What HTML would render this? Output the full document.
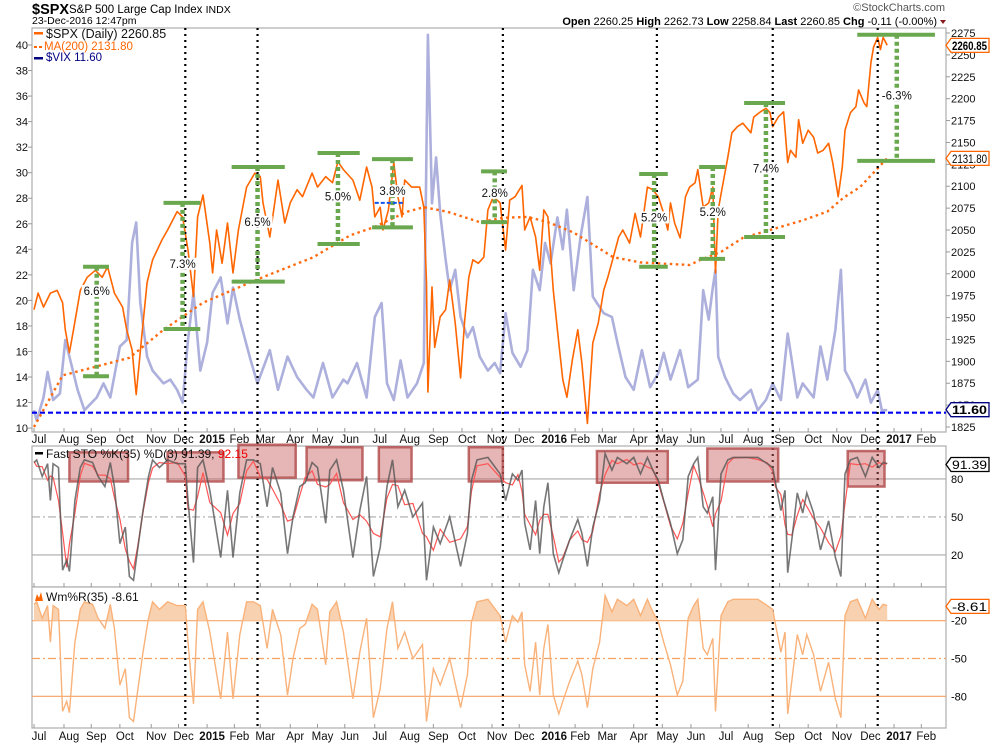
<!DOCTYPE html>
<html><head><meta charset="utf-8">
<style>
html,body{margin:0;padding:0;background:#fff;}
svg{display:block;font-family:"Liberation Sans",Arial,sans-serif;}
</style></head>
<body>
<svg id="chart" width="990" height="744" viewBox="0 0 990 744" xmlns="http://www.w3.org/2000/svg">
  <text x="32" y="14" font-size="14.5" font-weight="bold">$SPX</text>
  <text x="69" y="13" font-size="11.5">S&amp;P 500 Large Cap Index <tspan font-size="10.5">INDX</tspan></text>
  <text x="32" y="24" font-size="10.5">23-Dec-2016 12:47pm</text>
  <text x="945" y="11" font-size="11" fill="#555" text-anchor="end">©StockCharts.com</text>
  <text x="937" y="25" font-size="11" text-anchor="end"><tspan font-weight="bold">Open</tspan> 2260.25  <tspan font-weight="bold">High</tspan> 2262.73  <tspan font-weight="bold">Low</tspan> 2258.84  <tspan font-weight="bold">Last</tspan> 2260.85  <tspan font-weight="bold">Chg</tspan> -0.11 (-0.00%)</text>
  <polygon points="940,20 946,20 943,24" fill="#8b1a1a"/>
  <g id="layer"></g>
</svg>
<script>
// ---------- DATA ----------
const monthDays = [0,22,42,63,86,106,127,147,166,188,208,228,250,272,293,314,336,356,378,397,417,440,461,482,504,524,547,568,589,610,631,651];
const monthLabels = ["Jul","Aug","Sep","Oct","Nov","Dec","2015","Feb","Mar","Apr","May","Jun","Jul","Aug","Sep","Oct","Nov","Dec","2016","Feb","Mar","Apr","May","Jun","Jul","Aug","Sep","Oct","Nov","Dec","2017","Feb"];
const vixTicks = [40,38,36,34,32,30,28,26,24,22,20,18,16,14,12,10];
const priceTicks = [2275,2250,2225,2200,2175,2150,2125,2100,2075,2050,2025,2000,1975,1950,1925,1900,1875,1850,1825];
const stoTicks = [80,50,20];
const wrTicks = [-20,-50,-80];

const spxDays = [0,3,7,12,17,21,23,26,29,34,39,45,50,54,59,65,68,72,75,79,83,87,94,98,105,109,113,117,120,124,129,131,134,138,142,146,150,156,162,166,168,173,179,184,188,193,197,204,208,214,219,223,227,234,239,244,248,250,254,256,260,264,267,270,272,277,283,286,288,289,292,294,298,302,305,309,313,316,319,322,326,330,333,337,342,346,349,353,358,360,364,368,371,374,377,381,385,388,391,395,399,402,406,410,414,418,421,425,429,432,437,441,445,450,454,458,462,465,467,470,474,478,481,485,487,491,495,498,500,502,505,509,512,516,520,526,528,533,537,540,542,546,550,553,555,559,561,564,568,572,575,579,583,586,590,593,595,599,603,605,609,611,614,616,619,621,623,626];
const spxClose = [1959,1978,1962,1978,1981,1967,1936,1910,1936,1981,1996,2004,1996,2008,1978,1962,1936,1913,1862,1928,1990,2016,2039,2050,2071,2065,2027,1974,2065,2090,2035,2001,2050,2012,2058,2001,2050,2099,2115,2111,2081,2042,2107,2058,2081,2096,2088,2115,2099,2111,2104,2128,2119,2107,2084,2122,2099,2065,2076,2050,2073,2127,2088,2065,2107,2099,2099,2076,1990,1865,1985,1916,1951,1959,1993,1944,1881,1947,1996,2016,2012,2019,2073,2088,2081,2027,2084,2088,2101,2050,2065,2042,2004,2073,2065,1981,1921,1879,1859,1902,1936,1898,1829,1921,1944,1981,1996,2019,2042,2050,2035,2069,2042,2099,2096,2088,2069,2050,2081,2058,2041,2088,2099,2104,2119,2076,2081,2099,2001,2073,2099,2133,2161,2168,2172,2161,2179,2185,2189,2184,2168,2179,2185,2127,2141,2133,2176,2149,2164,2156,2138,2141,2149,2127,2088,2122,2164,2184,2191,2210,2195,2191,2241,2259,2270,2256,2270,2261];

const maDays = [0,21,70,95,124,166,205,232,249,274,286,303,327,344,362,377,396,425,445,457,481,489,504,520,540,564,582,594,606,626];
const maValues = [1825,1884,1904,1936,1967,1995,2019,2044,2053,2071,2076,2071,2059,2064,2065,2059,2047,2019,2013,2012,2010,2016,2025,2041,2050,2061,2071,2087,2099,2132];

const vixDays = [0,2,7,10,14,19,23,26,32,37,46,51,56,63,68,72,75,78,83,87,95,100,105,109,113,117,122,127,131,137,142,146,151,159,164,173,179,186,193,200,205,212,219,227,230,237,244,250,255,259,264,269,274,281,286,289,292,295,298,302,305,309,313,318,322,327,333,338,342,346,351,357,362,366,371,375,379,384,388,391,396,401,406,410,413,418,424,428,434,440,446,452,458,462,467,474,480,487,491,495,498,500,502,507,513,518,526,531,537,542,548,553,556,560,564,572,577,582,588,592,595,600,604,610,614,619,622,626];
const vixValues = [11.4,10.6,12.4,14.4,12.2,12.7,16.9,15.6,13.0,11.4,12.4,13.5,12.4,16.4,16.9,24.5,26.1,19.8,15.6,14.5,13.5,13.8,13.0,12.0,16.9,20.6,14.5,16.7,20.6,21.8,18.2,21.0,18.5,15.3,13.5,16.1,13.0,15.6,14.0,13.0,12.4,15.1,12.4,13.8,13.5,15.1,12.4,18.7,19.8,13.5,12.2,15.3,12.4,13.5,15.1,40.8,27.6,31.2,26.8,23.2,20.8,22.4,18.7,17.1,17.9,15.6,14.5,15.1,14.3,19.0,15.9,14.8,16.1,22.4,20.8,24.5,22.9,26.5,24.0,27.1,20.8,25.0,28.1,20.3,19.8,19.0,18.7,16.7,14.0,13.0,16.1,13.2,14.3,15.9,13.8,16.1,13.2,13.8,20.8,18.5,21.0,22.4,15.6,14.0,12.7,12.2,13.0,11.4,12.2,13.5,12.2,17.4,15.3,12.4,13.5,12.4,16.4,13.8,17.7,22.4,14.5,13.5,12.4,13.8,12.0,13.0,11.4,11.4];
const vixLast = 11.6;

const kDays = [0,2,6,10,12,14,18,21,24,26,30,34,37,43,47,52,56,59,63,67,70,73,76,80,84,87,92,98,105,111,113,117,120,124,129,137,142,146,151,156,161,166,171,175,181,186,190,195,199,204,208,214,217,222,227,234,239,244,249,254,259,263,267,272,278,285,288,293,298,305,313,318,321,325,333,342,346,351,355,358,360,364,368,371,374,377,381,385,388,393,399,402,406,410,415,419,424,428,435,440,445,450,454,458,462,467,472,476,480,484,487,491,494,498,500,504,509,513,523,531,538,542,544,548,551,553,556,560,564,567,572,577,583,588,592,595,599,604,610,615,620,623,626];
const kValues = [93,95,82,92,63,92,89,8,16,7,63,89,95,93,82,74,93,74,29,42,3,0,24,55,82,95,89,95,92,92,63,14,89,95,71,18,71,18,69,95,95,92,58,89,69,21,50,74,77,93,89,45,87,95,71,18,55,82,3,26,74,95,58,71,50,61,0,42,29,50,11,37,79,95,97,84,63,84,79,87,45,24,63,21,58,77,21,6,16,32,48,37,11,42,63,100,87,97,92,97,84,97,87,79,63,45,21,32,82,92,97,58,53,66,8,84,95,97,97,97,92,89,77,55,71,6,32,69,53,69,53,24,47,18,3,84,95,97,82,97,89,93,92];
const kLast = 91.39, dLast = 92.15, wrLast = -8.61;

const brDayStart = [36,95,145,208,248,328,444,488,521,604];
const brDayEnd   = [55,122,184,239,278,347,465,507,551,661];
const brDayMid   = [46,109,164,223,263,338,455,498,537,633];
const brTop      = [2008,2081,2122,2138,2131,2117,2114,2122,2195,2273];
const brBottom   = [1883,1937,1991,2034,2053,2059,2008,2017,2042,2129];
const brLabelPx  = [1977,2008,2056,2085,2091,2089,2061,2067,2117,2200];
const brLabels   = ["6.6%","7.3%","6.5%","5.0%","3.8%","2.8%","5.2%","5.2%","7.4%","-6.3%"];

const eventDays = [111,164,344,457,542,619];

const boxDayStart = [26,98,150,200,253,319,413,494,597];
const boxDayEnd   = [69,139,192,241,277,344,465,546,624];
const boxTop      = [101,101,107,105,105,105,102,104,102];
const boxBottom   = [78,78,81,79,78,78,77,78,74];

// ---------- SCALES ----------
const L=32,R=946, MT=28,MB=432, ST=446,SB=587, WT=587,WB=728;
const xD = d => 34 + d*1.363;
const yP = p => 33 + (2275-p)*0.8756;
const yV = v => 45 + (40-v)*12.77;
const yK = k => 580.3 - k*1.267;
const yW = w => 595.5 + (-w)*1.26;

const NS="http://www.w3.org/2000/svg";
const layer=document.getElementById('layer');
function mk(tag, attrs, parent){const e=document.createElementNS(NS,tag);for(const k in attrs)e.setAttribute(k,attrs[k]);(parent||layer).appendChild(e);return e;}
function pts(days, vals, fy){return days.map((d,i)=>xD(d).toFixed(1)+','+fy(vals[i]).toFixed(1)).join(' ');}

[[MT,MB,'price-panel'],[ST,SB,'stochastic-panel'],[WT,WB,'williams-panel']].forEach(p=>{
  const r=mk('rect',{x:L,y:p[0],width:R-L,height:p[1]-p[0],fill:'#fff',stroke:'#b4b4b4','stroke-width':1.3});
  
  
});

function monthAxis(y, name){
  const g=mk('g',{});
  
  
  monthDays.forEach((d,i)=>{
    const t=mk('text',{x:xD(d)+5,y:y,'font-size':11.5,'text-anchor':'middle','font-weight':/^\d/.test(monthLabels[i])?'bold':'normal',fill:'#111'},g);
    t.textContent=monthLabels[i];
    
    
  });
}
monthAxis(443,'x-axis-top');
monthAxis(740,'x-axis-bottom');
[MB,SB,WB].forEach(yb=>{
  monthDays.forEach(d=>{const x=xD(d); if(x>L&&x<R){const t=mk('line',{x1:x,x2:x,y1:yb-4,y2:yb,stroke:'#999'});}});
});

vixTicks.forEach(v=>{
  const t=mk('text',{x:28,y:yV(v)+4,'font-size':11,'text-anchor':'end',fill:'#111'});
  t.textContent=v;
  
  
  const tk=mk('line',{x1:L-4,x2:L,y1:yV(v),y2:yV(v),stroke:'#999'});
  
  
});
priceTicks.forEach(p=>{
  const t=mk('text',{x:951,y:yP(p)+4,'font-size':11,fill:'#111'});
  t.textContent=p;
  
  
  const tk=mk('line',{x1:R,x2:R+4,y1:yP(p),y2:yP(p),stroke:'#999'});
  
  
});

stoTicks.forEach(v=>{
  const l=mk('line',{x1:L,x2:R,y1:yK(v),y2:yK(v),stroke:'#aaa','stroke-width':1.2,'stroke-dasharray':v===50?'8,3,2,3':'none'});
  
  
  const t=mk('text',{x:951,y:yK(v)+4,'font-size':11});
  t.textContent=v;
  
  
});
wrTicks.forEach(v=>{
  const l=mk('line',{x1:L,x2:R,y1:yW(v),y2:yW(v),stroke:'#f7a060','stroke-width':1.2,'stroke-dasharray':v===-50?'8,3,2,3':'none'});
  
  
  const t=mk('text',{x:951,y:yW(v)+4,'font-size':11});
  t.textContent=v;
  
  
});

const vixLine=mk('polyline',{points:pts(vixDays,vixValues,yV),fill:'none',stroke:'#adb0dc','stroke-width':2.6,'stroke-linejoin':'round'});


const vixLvl=mk('line',{x1:L,x2:R,y1:yV(vixLast)+5,y2:yV(vixLast)+5,stroke:'#0000ee','stroke-width':2.2,'stroke-dasharray':'5,3'});



const maLine=mk('polyline',{points:pts(maDays,maValues,yP),fill:'none',stroke:'#ff6a10','stroke-width':2.4,'stroke-dasharray':'2.5,3.5'});



const spxLine=mk('polyline',{points:pts(spxDays,spxClose,yP),fill:'none',stroke:'#ff6600','stroke-width':1.6,'stroke-linejoin':'round'});



eventDays.forEach(d=>{
  const l=mk('line',{x1:xD(d),x2:xD(d),y1:MT,y2:WB,stroke:'#000','stroke-width':2.2,'stroke-dasharray':'2,4'});
  
  
});

brLabels.forEach((lab,i)=>{
  const g=mk('g',{});
  
  
  const x1=xD(brDayStart[i]),x2=xD(brDayEnd[i]),xm=xD(brDayMid[i]);
  mk('line',{x1:x1,x2:x2,y1:yP(brTop[i]),y2:yP(brTop[i]),stroke:'#6aa84f','stroke-width':4},g);
  mk('line',{x1:x1,x2:x2,y1:yP(brBottom[i]),y2:yP(brBottom[i]),stroke:'#6aa84f','stroke-width':4},g);
  mk('line',{x1:xm,x2:xm,y1:yP(brTop[i]),y2:yP(brBottom[i]),stroke:'#6aa84f','stroke-width':4.5,'stroke-dasharray':'4,3'},g);
  const ly=yP(brLabelPx[i]);
  mk('rect',{x:xm-15,y:ly-9,width:30,height:12,fill:'#fff'},g);
  const t=mk('text',{x:xm,y:ly+1,'font-size':11.5,'text-anchor':'middle',fill:'#111'},g);
  t.textContent=lab;
  
  
});
const bl=mk('line',{x1:xD(250),x2:xD(272),y1:yP(2081),y2:yP(2081),stroke:'#1155ee','stroke-width':2,'stroke-dasharray':'4,2'});



boxDayStart.forEach((d,i)=>{
  const r=mk('rect',{x:xD(d),y:yK(boxTop[i]),width:xD(boxDayEnd[i])-xD(d),height:yK(boxBottom[i])-yK(boxTop[i]),fill:'rgba(200,90,90,0.45)',stroke:'#b04848','stroke-width':2.5,'stroke-opacity':0.8});
  
  
});
const dValues = kValues.map((v,i)=>(kValues[Math.max(0,i-1)]+v+kValues[Math.min(kValues.length-1,i+1)])/3);
const dLine=mk('polyline',{points:pts(kDays,dValues,yK),fill:'none',stroke:'#ff5555','stroke-width':1.2});


const kLine=mk('polyline',{points:pts(kDays,kValues,yK),fill:'none',stroke:'#555','stroke-width':1.6,'stroke-opacity':0.8});



const wrValues = kValues.map(v=>v-100);
const clip=mk('clipPath',{id:'wrclip'});
mk('rect',{x:L,y:WT,width:R-L,height:yW(-20)-WT},clip);
const areaPts = xD(kDays[0])+','+yW(-20)+' '+pts(kDays,wrValues,yW)+' '+xD(kDays[kDays.length-1])+','+yW(-20);
const wrArea=mk('polygon',{points:areaPts,fill:'#f8d2b0','clip-path':'url(#wrclip)'});


const wrLine=mk('polyline',{points:pts(kDays,wrValues,yW),fill:'none',stroke:'#f9b27a','stroke-width':1.4});



function txt(x,y,s,attrs,name){const t=mk('text',Object.assign({x:x,y:y,'font-size':12},attrs||{}));t.textContent=s;return t;}
mk('rect',{x:34,y:32,width:9,height:2.5,fill:'#ff6600'});
txt(46,38,'$SPX (Daily) 2260.85',{fill:'#111','font-size':12.5},'legend-spx');
mk('rect',{x:34,y:46,width:3,height:2,fill:'#ff6600'});mk('rect',{x:39,y:46,width:3,height:2,fill:'#ff6600'});
txt(44,50,'MA(200) 2131.80',{fill:'#ff6600','font-size':11.5},'legend-ma200');
mk('rect',{x:34,y:57,width:9,height:2.5,fill:'#000080'});
txt(46,61,'$VIX 11.60',{fill:'#000080','font-size':11.5},'legend-vix');
mk('rect',{x:35,y:452,width:8,height:2.5,fill:'#000'});
const sl=txt(46,458,'Fast STO %K(35) %D(3) 91.39, ',{fill:'#111','font-size':12},'legend-sto');
const ts=document.createElementNS(NS,'tspan');ts.setAttribute('fill','#e00');ts.textContent='92.15';sl.appendChild(ts);
mk('polygon',{points:'35,601 37,594 39,598 41,592 43,601',fill:'#f60'});
txt(46,601,'Wm%R(35) -8.61',{fill:'#111','font-size':12},'legend-wr');

function tag(y,s,color,bold,name){
  const g=mk('g',{});
  
  
  mk('polygon',{points:`946,${y} 951,${y-7} 989,${y-7} 989,${y+7} 951,${y+7}`,fill:'#fff',stroke:color,'stroke-width':1.3},g);
  const t=mk('text',{x:952,y:y+4.5,'font-size':11.5,'font-weight':bold?'bold':'normal',fill:'#000',textLength:35,lengthAdjust:'spacingAndGlyphs'},g);
  t.textContent=s;
}
tag(yP(2260.85),'2260.85','#ff6600',true,'spx-last-tag');
tag(yP(2131.8),'2131.80','#ff6600',false,'ma-last-tag');
tag(yV(vixLast)+2,'11.60','#000080',true,'vix-last-tag');
mk('line',{x1:947,x2:989,y1:yK(dLast)-1,y2:yK(dLast)-1,stroke:'#e00','stroke-width':2});
tag(yK(kLast),'91.39','#000',false,'sto-last-tag');
tag(yW(wrLast),'-8.61','#ff6600',false,'wr-last-tag');
</script>
</body></html>
